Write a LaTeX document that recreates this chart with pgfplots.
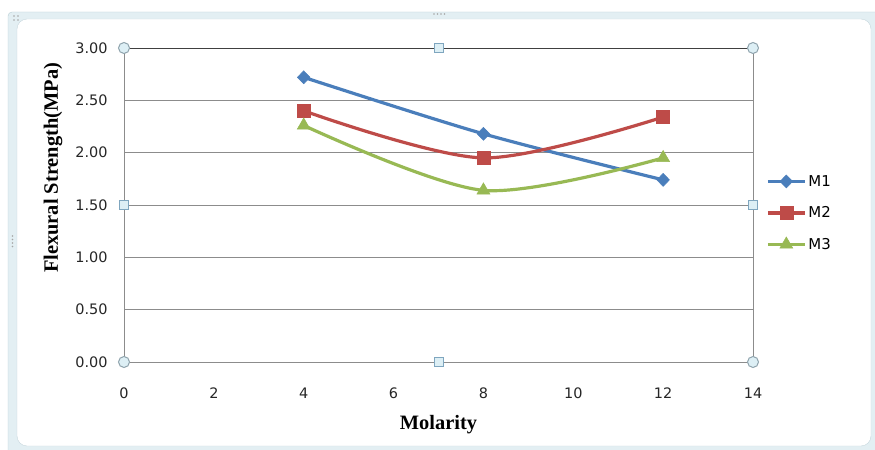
\documentclass[border=0pt]{standalone}
\usepackage{fontspec}
\usepackage{pgfplots}
\pgfplotsset{compat=1.18}
\setmainfont{DejaVu Sans}
\newfontfamily\labelfont{Liberation Serif}

\definecolor{sOne}{HTML}{4A7EBB}
\definecolor{sTwo}{HTML}{BE4B48}
\definecolor{sThree}{HTML}{98B954}
\definecolor{gridc}{HTML}{8C8C8C}
\definecolor{bandc}{HTML}{E3EFF3}
\definecolor{bandline}{HTML}{B8CDD4}
\definecolor{handlefill}{HTML}{DDEFF5}
\definecolor{handleline}{HTML}{8FA3AD}
\definecolor{sqline}{HTML}{7FA6BF}

\tikzset{
  roundhandle/.style={fill=handlefill, draw=handleline, line width=1pt},
  squarehandle/.style={fill=handlefill, draw=sqline, line width=1pt},
}

\begin{document}
\begin{tikzpicture}
\path[use as bounding box] (0bp,0bp) rectangle (875bp,450bp);
% chart frame
\begin{scope}[x=1bp,y=1bp]
\clip (0,0) rectangle (875,450);
\filldraw[fill=bandc, draw=bandline, rounded corners=4bp] (8,-10) rectangle (890,438);
\filldraw[fill=white, draw=bandline!80, rounded corners=10bp] (17,4) rectangle (871,431);
% resize grips
\foreach \i in {0,1,2,3} {
  \fill[gray!70] (434+\i*3.5,436) circle (0.9);
  \fill[gray!70] (12.5,214-\i*3.5) circle (0.9);
  \fill[gray!70] (434+\i*3.5,451) circle (0.9);
}
\fill[gray!70] (14,434) circle (0.9);
\fill[gray!70] (18,434) circle (0.9);
\fill[gray!70] (14,430) circle (0.9);
\fill[gray!70] (18,430) circle (0.9);
\end{scope}

\begin{axis}[
  at={(124bp,88bp)}, anchor=south west,
  scale only axis, width=629bp, height=314bp,
  xmin=0, xmax=14, ymin=0, ymax=3,
  xtick={0,2,...,14},
  ytick={0,0.5,...,3},
  major tick length=0pt,
  ymajorgrids,
  major grid style={gridc, line width=0.9pt},
  axis line style={draw=none},
  /pgf/number format/assume math mode=true,
  yticklabel style={/pgf/number format/fixed, /pgf/number format/fixed zerofill,
    /pgf/number format/precision=2, xshift=-13bp},
  tick label style={font=\fontsize{14.5}{17}\selectfont, text=black!85},
  xticklabel style={yshift=-22bp},
  xlabel={\labelfont\bfseries Molarity},
  ylabel={\labelfont\bfseries Flexural Strength(MPa)},
  xlabel style={font=\fontsize{20.5}{24}\selectfont, at={(axis description cs:0.5,-0.2)}, anchor=center},
  ylabel style={font=\fontsize{20.5}{24}\selectfont, at={(axis description cs:-0.113,0.618)}, anchor=center},
  legend style={draw=none, fill=none, inner sep=0pt, row sep=15bp,
    font=\fontsize{15}{17}\selectfont,
    at={(axis description cs:1.0207,0.4745)}, anchor=west},
  legend cell align=left,
  legend image code/.code={
    \draw[#1, mark repeat=2, mark phase=2] plot coordinates {(0bp,0bp) (18.5bp,0bp) (37bp,0bp)};
  },
  clip=false,
]
\addplot[sOne, line width=3.2pt, smooth, mark=diamond*, mark size=6.5bp,
  mark options={line width=0.5pt, fill=sOne, xscale=1.3}]
  coordinates {(4,2.72) (8,2.18) (12,1.74)};
\addlegendentry{M1}
\addplot[sTwo, line width=3.2pt, smooth, mark=square*, mark size=6.5bp,
  mark options={line width=0.5pt, fill=sTwo}]
  coordinates {(4,2.40) (8,1.95) (12,2.34)};
\addlegendentry{M2}
\addplot[sThree, line width=3.2pt, smooth, mark=triangle*, mark size=7.5bp,
  mark options={line width=0.5pt, fill=sThree}]
  coordinates {(4,2.26) (8,1.64) (12,1.95)};
\addlegendentry{M3}

% plot area border
\draw[gridc, line width=1pt] (rel axis cs:0,1) -- (rel axis cs:0,0) -- (rel axis cs:1,0) -- (rel axis cs:1,1);
\draw[black!75, line width=1pt] (rel axis cs:0,1) -- (rel axis cs:1,1);
% selection handles
\filldraw[roundhandle] (rel axis cs:0,0) circle[radius=5.5bp];
\filldraw[roundhandle] (rel axis cs:1,0) circle[radius=5.5bp];
\filldraw[roundhandle] (rel axis cs:0,1) circle[radius=5.5bp];
\filldraw[roundhandle] (rel axis cs:1,1) circle[radius=5.5bp];
\filldraw[squarehandle] (rel axis cs:0.5,0) ++(-4.5bp,-4.5bp) rectangle ++(9bp,9bp);
\filldraw[squarehandle] (rel axis cs:0.5,1) ++(-4.5bp,-4.5bp) rectangle ++(9bp,9bp);
\filldraw[squarehandle] (rel axis cs:0,0.5) ++(-4.5bp,-4.5bp) rectangle ++(9bp,9bp);
\filldraw[squarehandle] (rel axis cs:1,0.5) ++(-4.5bp,-4.5bp) rectangle ++(9bp,9bp);
\end{axis}
\end{tikzpicture}
\end{document}
